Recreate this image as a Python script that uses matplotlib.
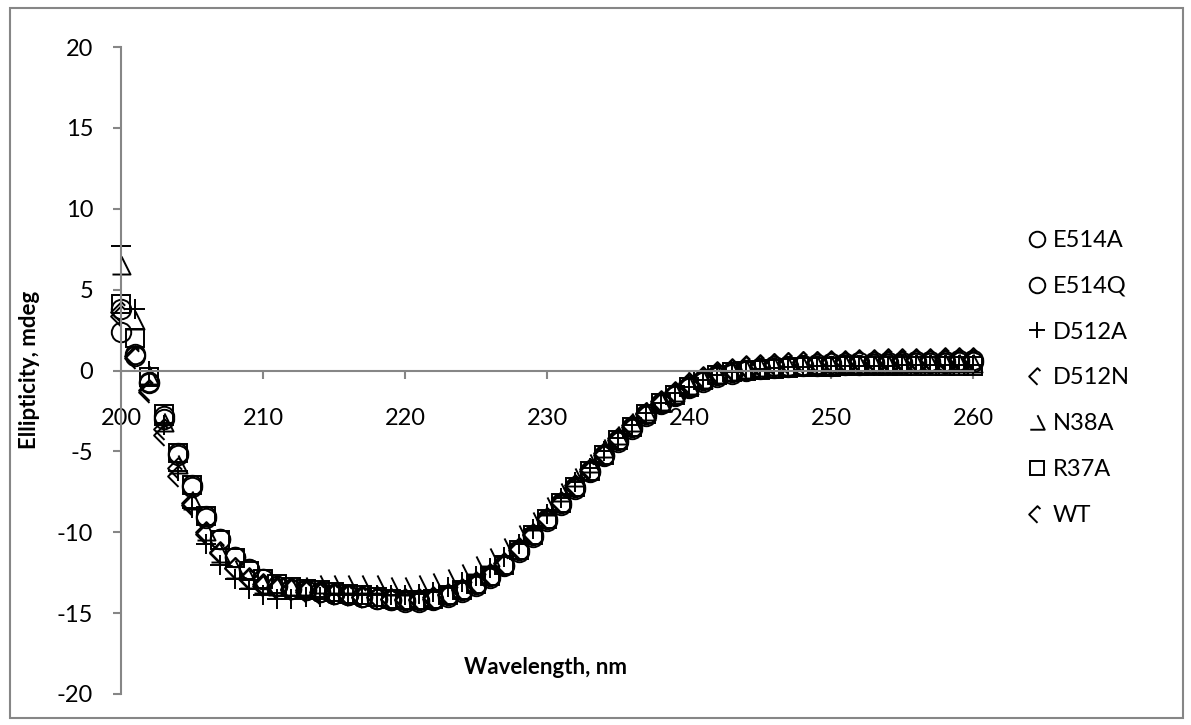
import numpy as np
import matplotlib
matplotlib.use("Agg")
import matplotlib.pyplot as plt
from matplotlib.path import Path
from matplotlib.patches import Rectangle

plt.rcParams["font.family"] = ["Lato", "DejaVu Sans"]
plt.rcParams["axes.unicode_minus"] = False

wavelength = list(range(200, 261))

E514A = [2.4, 0.9, -0.8, -3.0, -5.2, -7.2, -9.1, -10.4, -11.5, -12.3,
         -12.9, -13.3, -13.5, -13.6, -13.7, -13.8, -13.9, -14.0, -14.1, -14.2,
         -14.3, -14.3, -14.2, -14.0, -13.7, -13.3, -12.8, -12.1, -11.2, -10.3,
         -9.3, -8.3, -7.3, -6.3, -5.3, -4.4, -3.6, -2.8, -2.1, -1.6,
         -1.1, -0.7, -0.4, -0.2, 0.0, 0.1, 0.15, 0.2, 0.25, 0.3,
         0.3, 0.35, 0.35, 0.4, 0.4, 0.4, 0.45, 0.45, 0.45, 0.5, 0.5]
E514Q = [3.8, 1.0, -0.7, -2.8, -5.1, -7.1, -9.0, -10.4, -11.5, -12.3,
         -12.9, -13.3, -13.5, -13.6, -13.7, -13.8, -13.9, -14.0, -14.1, -14.2,
         -14.2, -14.2, -14.1, -13.9, -13.6, -13.2, -12.7, -12.0, -11.1, -10.2,
         -9.2, -8.2, -7.2, -6.2, -5.2, -4.3, -3.5, -2.7, -2.0, -1.5,
         -1.0, -0.6, -0.3, -0.1, 0.05, 0.15, 0.25, 0.3, 0.35, 0.4,
         0.45, 0.45, 0.5, 0.5, 0.55, 0.55, 0.6, 0.6, 0.6, 0.65, 0.65]
D512A = [7.7, 3.8, 0.0, -3.4, -6.2, -8.5, -10.7, -12.0, -12.9, -13.5,
         -13.9, -14.1, -14.1, -14.0, -14.0, -13.9, -13.9, -13.9, -13.9, -13.9,
         -13.9, -13.8, -13.7, -13.4, -13.1, -12.7, -12.2, -11.5, -10.7, -9.8,
         -8.9, -7.9, -6.9, -6.0, -5.0, -4.2, -3.4, -2.6, -2.0, -1.4,
         -1.0, -0.6, -0.3, -0.1, 0.0, 0.1, 0.15, 0.2, 0.2, 0.25,
         0.25, 0.3, 0.3, 0.3, 0.3, 0.35, 0.35, 0.35, 0.35, 0.35, 0.35]
D512N = [3.4, 0.8, -1.2, -3.6, -6.0, -8.2, -10.0, -11.2, -12.2, -12.9,
         -13.3, -13.5, -13.6, -13.7, -13.8, -13.8, -13.9, -14.0, -14.0, -14.1,
         -14.1, -14.1, -14.0, -13.8, -13.5, -13.1, -12.6, -11.9, -11.0, -10.1,
         -9.1, -8.1, -7.1, -6.1, -5.1, -4.2, -3.4, -2.6, -1.9, -1.3,
         -0.8, -0.4, -0.1, 0.1, 0.25, 0.35, 0.4, 0.45, 0.5, 0.5,
         0.55, 0.55, 0.6, 0.6, 0.6, 0.6, 0.65, 0.65, 0.65, 0.65, 0.65]
N38A = [6.5, 3.1, -0.3, -3.2, -5.8, -8.0, -9.9, -11.3, -12.3, -12.9,
        -13.2, -13.3, -13.3, -13.3, -13.2, -13.2, -13.2, -13.2, -13.2, -13.3,
        -13.3, -13.2, -13.1, -12.8, -12.5, -12.0, -11.5, -10.9, -10.1, -9.3,
        -8.4, -7.5, -6.6, -5.7, -4.8, -4.0, -3.2, -2.5, -1.9, -1.3,
        -0.9, -0.5, -0.2, 0.0, 0.1, 0.2, 0.25, 0.3, 0.3, 0.35,
        0.35, 0.4, 0.4, 0.4, 0.4, 0.45, 0.45, 0.45, 0.45, 0.45, 0.45]
R37A = [4.1, 2.0, -0.4, -2.7, -5.1, -7.1, -9.0, -10.5, -11.6, -12.4,
        -12.9, -13.2, -13.4, -13.5, -13.6, -13.7, -13.8, -13.9, -14.0, -14.1,
        -14.2, -14.2, -14.1, -13.9, -13.6, -13.2, -12.7, -12.0, -11.1, -10.2,
        -9.2, -8.2, -7.2, -6.2, -5.2, -4.3, -3.5, -2.7, -2.0, -1.5,
        -1.0, -0.6, -0.3, -0.1, 0.0, 0.05, 0.1, 0.15, 0.2, 0.2,
        0.2, 0.25, 0.25, 0.25, 0.3, 0.3, 0.3, 0.3, 0.3, 0.3, 0.3]
WT = [3.6, 0.9, -1.3, -4.0, -6.5, -8.3, -10.1, -11.3, -12.2, -12.8,
      -13.2, -13.4, -13.5, -13.6, -13.7, -13.8, -13.9, -14.0, -14.0, -14.1,
      -14.2, -14.2, -14.1, -13.9, -13.6, -13.2, -12.7, -12.0, -11.1, -10.2,
      -9.2, -8.2, -7.2, -6.2, -5.2, -4.3, -3.5, -2.7, -2.0, -1.4,
      -0.9, -0.5, -0.2, 0.05, 0.2, 0.3, 0.4, 0.45, 0.5, 0.55,
      0.6, 0.6, 0.65, 0.65, 0.7, 0.7, 0.7, 0.7, 0.75, 0.75, 0.75]

# Excel-ish partial marker shapes
half_diamond = Path([(0.35, 0.65), (0, 1), (-1, 0), (0, -1)])
open_triangle = Path([(0, 1), (1, -1), (-1, -1)])

series = [
    ("E514A", E514A, "o", 14),
    ("E514Q", E514Q, "o", 14),
    ("D512A", D512A, "+", 15),
    ("D512N", D512N, half_diamond, 15),
    ("N38A", N38A, open_triangle, 13),
    ("R37A", R37A, "s", 13),
    ("WT", WT, half_diamond, 15),
]

GREY = "#868686"

fig = plt.figure(figsize=(11.91, 7.25), dpi=100)
ax = fig.add_axes([121 / 1191, 1 - 694 / 725, (973 - 121) / 1191, (694 - 47) / 725])

for name, vals, mk, ms in series:
    ax.plot(wavelength, vals, linestyle="none", marker=mk, markersize=ms,
            markerfacecolor="none", markeredgecolor="black", markeredgewidth=1.4,
            label=name, clip_on=False)

ax.set_xlim(200, 260)
ax.set_ylim(-20, 20)
ax.set_xticks(np.arange(200, 261, 10))
ax.set_yticks(np.arange(-20, 21, 5))

for s in ["top", "right"]:
    ax.spines[s].set_visible(False)
ax.spines["bottom"].set_position(("data", 0))
for s in ["left", "bottom"]:
    ax.spines[s].set_color(GREY)
    ax.spines[s].set_linewidth(1.5)
ax.tick_params(axis="both", colors=GREY, labelcolor="black", labelsize=17,
               width=1.5, length=6, direction="out")
ax.tick_params(axis="y", pad=14)
ax.tick_params(axis="x", pad=21)

fig.text(546 / 1191, 1 - 667 / 725, "Wavelength, nm", ha="center", va="center",
         fontsize=16, fontweight="bold")
fig.text(30 / 1191, 1 - 370 / 725, "Ellipticity, mdeg", ha="center", va="center",
         rotation=90, fontsize=16, fontweight="bold")

ax.legend(loc="center left", bbox_to_anchor=(1017 / 1191, 1 - 378 / 725),
          bbox_transform=fig.transFigure, frameon=False, fontsize=17,
          handlelength=0.7, handletextpad=0.3, labelspacing=1.05,
          borderpad=0, markerscale=0.8)

fig.patches.append(Rectangle((10 / 1191, 1 - 718 / 725), 1173 / 1191, 710 / 725,
                             transform=fig.transFigure, fill=False,
                             edgecolor=GREY, linewidth=1.5))

fig.savefig("out.png", dpi=100)
